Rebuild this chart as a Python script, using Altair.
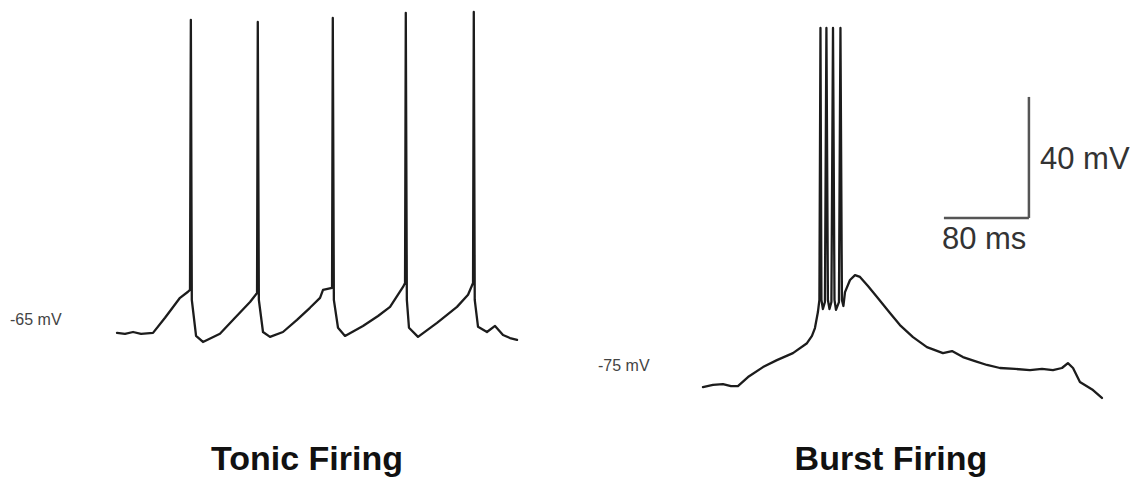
import altair as alt
import pandas as pd

# ---- Tonic firing trace (time in ms, membrane potential in mV) ----
tonic_t = [0.0, 7.5, 15.1, 22.6, 33.9, 45.2, 59.3, 66.8, 68.7, 69.5, 70.4, 74.4, 80.9,
           96.9, 111.1, 125.2, 131.8, 132.5, 133.5, 137.4, 144.0, 156.2, 169.4, 181.6,
           191.1, 193.9, 202.4, 203.1, 204.1, 208.0, 214.6, 231.5, 245.7, 257.0, 269.2,
           271.1, 271.8, 272.8, 274.8, 283.3, 301.2, 320.0, 330.4, 335.1, 335.8, 336.7,
           339.8, 348.2, 355.8, 363.3, 369.9, 376.5]
tonic_v = [-65.0, -65.3, -64.7, -65.3, -65.0, -60.0, -53.4, -51.4, -50.8, 38.5, -54.1, -66.0, -68.0,
           -65.3, -60.0, -54.8, -51.8, 37.8, -54.1, -64.7, -66.3, -64.7, -60.7, -56.7,
           -53.4, -50.8, -50.1, 39.1, -54.1, -63.3, -66.0, -62.7, -59.4, -56.4, -49.8,
           -48.5, 40.8, -54.1, -63.3, -66.3, -61.7, -56.4, -52.4, -48.5, 41.1, -54.1,
           -63.0, -64.7, -62.7, -65.7, -66.7, -67.3]

# ---- Burst firing trace ----
burst_t = [0.0, 9.4, 18.8, 26.4, 32.9, 42.4, 56.5, 69.6, 84.7, 97.9, 102.6, 105.4, 108.2,
           109.6, 110.6, 111.5, 112.9, 114.8, 116.2, 117.6, 119.1, 120.9, 122.4, 123.8,
           125.2, 128.0, 129.4, 130.8, 132.2, 133.7, 138.4, 143.1, 147.8, 155.3, 163.8,
           176.0, 185.4, 197.7, 210.8, 225.9, 234.4, 244.7, 256.0, 267.3, 279.5, 293.7,
           307.8, 319.1, 329.4, 337.9, 343.5, 348.3, 354.8, 367.1, 375.5]
burst_v = [-75.0, -74.3, -74.0, -74.7, -74.7, -71.7, -68.4, -66.1, -63.8, -60.5, -58.1, -55.5, -50.2,
           -46.2, 43.7, -46.2, -49.2, -46.9, 43.7, -46.2, -49.2, -46.9, 43.7, -46.2,
           -49.5, -46.9, 43.7, -46.2, -48.2, -43.6, -39.6, -38.0, -38.6, -41.6, -45.2,
           -50.5, -54.5, -58.5, -61.8, -63.8, -63.1, -65.1, -66.4, -67.7, -68.7, -69.0,
           -69.4, -69.0, -69.4, -68.7, -67.1, -68.7, -73.3, -76.0, -78.6]

# ---- Resting potential labels ----
rest_labels = ["-65 mV", "-75 mV"]
rest_label_t = [-100.7, -98.8]
rest_label_v = [-60.7, -68.1]

# ---- Panel titles ----
titles = ["Tonic Firing", "Burst Firing"]
title_t = [178.8, 176.9]
title_v = [-110.3, -102.4]

# ---- Scale bar ----
bar_ms = 80
bar_mv = 40
bar_corner_t = 306.8
bar_corner_v = -19.1
bar_labels = ["40 mV", "80 ms"]

# ---- panel axis ranges (ms, mV) ----
tonic_xdom = [-102.6, 427.3]
tonic_ydom = [-112.3, 42.4]
burst_xdom = [-124.2, 405.7]
burst_ydom = [-104.4, 50.3]

W, H = 563, 468
TRACE = "#1c1c1c"


def scales(xdom, ydom):
    sx = alt.Scale(domain=xdom, nice=False, zero=False)
    sy = alt.Scale(domain=ydom, nice=False, zero=False)
    return sx, sy


def trace_layer(t, v, sx, sy):
    df = pd.DataFrame({"t": t, "v": v, "i": list(range(len(t)))})
    return alt.Chart(df).mark_line(
        color=TRACE, strokeWidth=2.3, strokeJoin="round", strokeCap="round"
    ).encode(
        x=alt.X("t:Q", scale=sx, axis=None),
        y=alt.Y("v:Q", scale=sy, axis=None),
        order="i:Q",
    )


def text_layer(label, t, v, sx, sy, **kw):
    df = pd.DataFrame({"label": [label], "t": [t], "v": [v]})
    return alt.Chart(df).mark_text(**kw).encode(
        x=alt.X("t:Q", scale=sx, axis=None),
        y=alt.Y("v:Q", scale=sy, axis=None),
        text="label:N",
    )


# Left panel
sxl, syl = scales(tonic_xdom, tonic_ydom)
left = alt.layer(
    trace_layer(tonic_t, tonic_v, sxl, syl),
    text_layer(rest_labels[0], rest_label_t[0], rest_label_v[0], sxl, syl,
               align="left", baseline="middle", font="Liberation Sans",
               fontSize=16, color="#444444"),
    text_layer(titles[0], title_t[0], title_v[0], sxl, syl,
               align="center", baseline="alphabetic", font="Liberation Sans",
               fontSize=34, fontWeight="bold", color="#111111"),
).properties(width=W, height=H)

# Right panel
sxr, syr = scales(burst_xdom, burst_ydom)
bar_df = pd.DataFrame({
    "t": [bar_corner_t, bar_corner_t - bar_ms],
    "t2": [bar_corner_t, bar_corner_t],
    "v": [bar_corner_v, bar_corner_v],
    "v2": [bar_corner_v + bar_mv, bar_corner_v],
})
bars = alt.Chart(bar_df).mark_rule(color="#555555", strokeWidth=2.5).encode(
    x=alt.X("t:Q", scale=sxr, axis=None),
    x2="t2:Q",
    y=alt.Y("v:Q", scale=syr, axis=None),
    y2="v2:Q",
)

right = alt.layer(
    trace_layer(burst_t, burst_v, sxr, syr),
    bars,
    text_layer(bar_labels[0], bar_corner_t + 10.4, bar_corner_v + bar_mv * 0.475, sxr, syr,
               align="left", baseline="middle", font="Liberation Sans",
               fontSize=31, color="#333333"),
    text_layer(bar_labels[1], bar_corner_t - bar_ms - 1.9, bar_corner_v - 7.3, sxr, syr,
               align="left", baseline="middle", font="Liberation Sans",
               fontSize=31, color="#333333"),
    text_layer(rest_labels[1], rest_label_t[1], rest_label_v[1], sxr, syr,
               align="left", baseline="middle", font="Liberation Sans",
               fontSize=16, color="#444444"),
    text_layer(titles[1], title_t[1], title_v[1], sxr, syr,
               align="center", baseline="alphabetic", font="Liberation Sans",
               fontSize=34, fontWeight="bold", color="#111111"),
).properties(width=W, height=H)

chart = alt.hconcat(left, right, spacing=0).properties(
    padding=0, background="white"
).configure_view(stroke=None)

chart.save("out.html", embed_options={"renderer": "svg", "actions": False})
